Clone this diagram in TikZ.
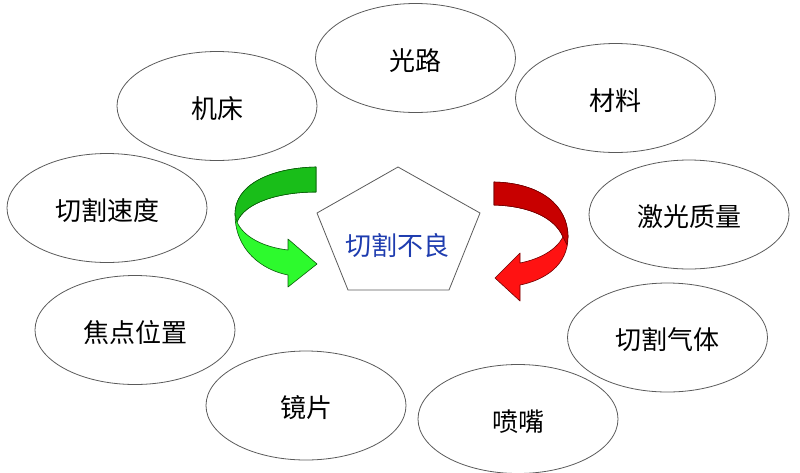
\documentclass[tikz,border=0pt]{standalone}
\usepackage{fontspec}
\setmainfont{Noto Sans CJK SC}
\usetikzlibrary{shapes.geometric}
\definecolor{edgegray}{RGB}{90,90,90}
\definecolor{txtblue}{RGB}{30,60,175}
\definecolor{gdark}{RGB}{25,190,25}
\definecolor{glight}{RGB}{45,250,45}
\definecolor{gline}{RGB}{10,90,10}
\definecolor{rdark}{RGB}{200,0,0}
\definecolor{rlight}{RGB}{255,18,18}
\definecolor{rline}{RGB}{110,0,0}
\tikzset{
  oval/.style={ellipse, draw=edgegray, line width=0.8pt, minimum width=200pt,
    minimum height=109pt, inner sep=0pt, text height=26pt, text depth=2pt,
    font=\fontsize{26}{30}\selectfont},
  pent/.style={draw=edgegray, line width=0.8pt},
  centertext/.style={font=\fontsize{26}{30}\selectfont, text=txtblue, inner sep=0pt,
    text height=26pt, text depth=2pt},
  ribbon/.style={line width=0.6pt, line join=round}
}
\begin{document}
\begin{tikzpicture}[x=1pt,y=-1pt]
\useasboundingbox (0,0) rectangle (800,472);
% ellipses
\node[oval] (guanglu) at (415.5,58) {光路};
\node[oval] (cailiao) at (615.5,98) {材料};
\node[oval] (jichuang) at (217,106) {机床};
\node[oval] (sudu) at (107,208) {切割速度};
\node[oval] (jiguang) at (689,214.5) {激光质量};
\node[oval] (jiaodian) at (135,330) {焦点位置};
\node[oval] (qiti) at (667.5,337.5) {切割气体};
\node[oval] (jingpian) at (306,405.5) {镜片};
\node[oval] (penzui) at (518,419) {喷嘴};
% pentagon
\coordinate (p1) at (398,167);
\coordinate (p2) at (480,213);
\coordinate (p3) at (449,290);
\coordinate (p4) at (348,290);
\coordinate (p5) at (317,213);
\draw[pent] (p1) -- (p2) -- (p3) -- (p4) -- (p5) -- cycle;
\node[centertext] (bad) at (397,243) {切割不良};
% green arrow: whole (light) shape
\fill[glight, draw=gline, ribbon]
  (316,167) .. controls (270,168) and (235,185) .. (235,214)
  .. controls (235,250) and (262,270) .. (288,275)
  -- (288,287) -- (317,264) -- (288,239) -- (288,250)
  .. controls (262,247) and (243,236) .. (237,222)
  .. controls (245,202) and (280,192) .. (316,192) -- cycle;
% green arrow: dark upper band
\fill[gdark, draw=gline, ribbon]
  (316,167) .. controls (270,168) and (235,185) .. (235,214)
  -- (237,222)
  .. controls (245,202) and (280,192) .. (316,192) -- cycle;
% red arrow: whole (light) shape
\fill[rlight, draw=rline, ribbon]
  (494,182) .. controls (540,183) and (568,205) .. (568,237)
  .. controls (568,265) and (545,280) .. (520,285)
  -- (520,301) -- (495,278) -- (520,253) -- (520,263)
  .. controls (540,259) and (556,250) .. (563,237)
  .. controls (555,218) and (530,206) .. (494,205) -- cycle;
% red arrow: dark upper band
\fill[rdark, draw=rline, ribbon]
  (494,182) .. controls (540,183) and (568,205) .. (568,237)
  -- (567,245) -- (563,237)
  .. controls (555,218) and (530,206) .. (494,205) -- cycle;
\end{tikzpicture}
\end{document}
